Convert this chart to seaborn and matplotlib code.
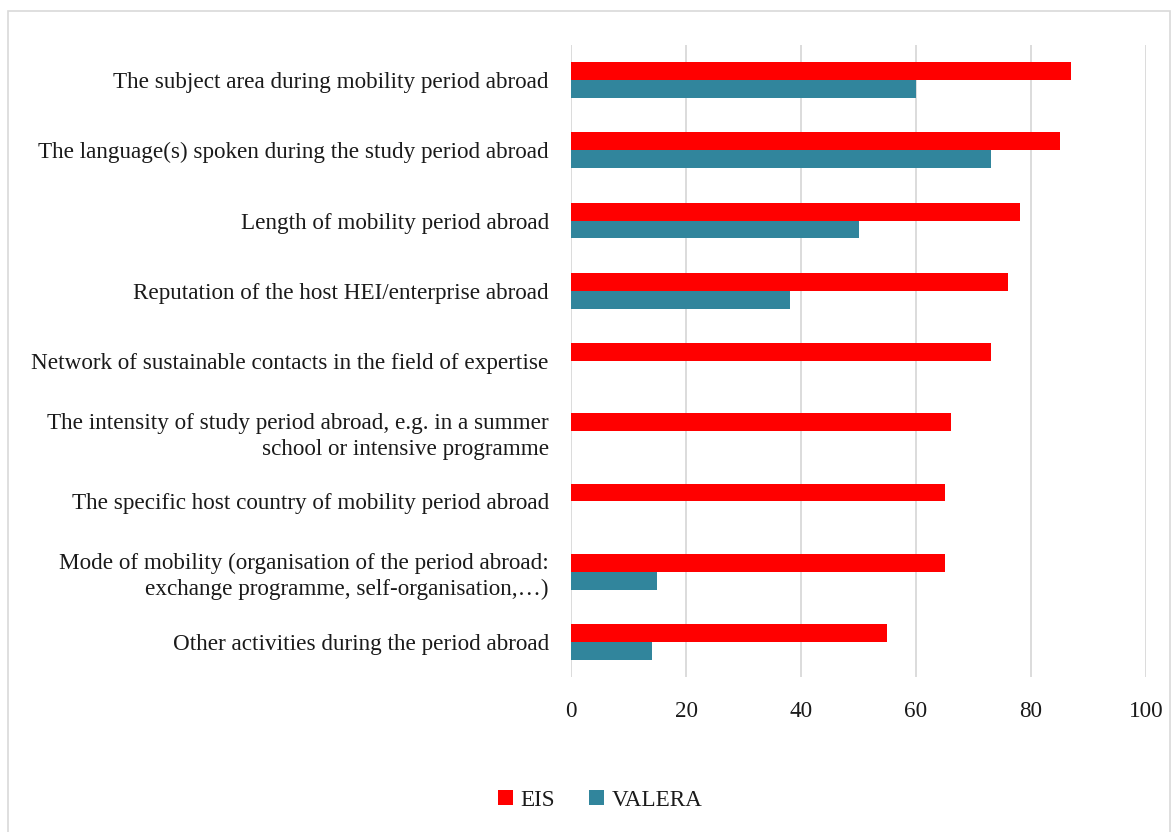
import numpy as np
import pandas as pd
import matplotlib
matplotlib.use("Agg")
import matplotlib.pyplot as plt
import seaborn as sns
from matplotlib.patches import Rectangle

categories = [
    "The subject area during mobility period abroad",
    "The language(s) spoken during the study period abroad",
    "Length of mobility period abroad",
    "Reputation of the host HEI/enterprise abroad",
    "Network of sustainable contacts in the field of expertise",
    "The intensity of study period abroad, e.g. in a summer\nschool or intensive programme",
    "The specific host country of mobility period abroad",
    "Mode of mobility (organisation of the period abroad:\nexchange programme, self-organisation,\u2026)",
    "Other activities during the period abroad",
]
eis = [87, 85, 78, 76, 73, 66, 65, 65, 55]
valera = [60, 73, 50, 38, np.nan, np.nan, np.nan, 15, 14]
series = ["EIS", "VALERA"]
x_ticks = [0, 20, 40, 60, 80, 100]

df = pd.DataFrame({
    "category": categories * 2,
    "value": eis + valera,
    "series": ["EIS"] * len(categories) + ["VALERA"] * len(categories),
})

sns.set_theme(style="white")
plt.rcParams["font.family"] = ["Liberation Serif", "DejaVu Serif"]

FS = 16.7
fig = plt.figure(figsize=(11.71, 8.32), dpi=100)
ax = fig.add_axes([571 / 1171, 1 - 677 / 832, (1146 - 571) / 1171, (677 - 45) / 832])

sns.barplot(data=df, x="value", y="category", hue="series", order=categories,
            hue_order=series, palette={"EIS": "#FF0000", "VALERA": "#31859C"},
            orient="h", width=0.51, errorbar=None, ax=ax, linewidth=0, saturation=1)

ax.set_xlim(0, 100)
ax.set_xticks(x_ticks)
ax.set_xticklabels([str(t) for t in x_ticks])
ax.set_ylim(len(categories) - 0.5, -0.5)
ax.xaxis.grid(True, color="#d9d9d9", linewidth=1.3)
ax.set_axisbelow(True)
for s in ["top", "right", "bottom", "left"]:
    ax.spines[s].set_visible(False)
ax.set_xlabel("")
ax.set_ylabel("")
ax.tick_params(axis="y", length=0, pad=16, labelsize=FS, labelcolor="#1a1a1a")
ax.tick_params(axis="x", length=0, pad=17, labelsize=FS, labelcolor="#1a1a1a")
for lbl in ax.get_yticklabels():
    lbl.set_multialignment("right")
    lbl.set_linespacing(1.3)

leg = ax.legend(loc="center", bbox_to_anchor=(600 / 1171, 1 - 800 / 832),
                bbox_transform=fig.transFigure, ncol=2, frameon=False,
                fontsize=FS, handlelength=0.65, handleheight=0.65,
                handletextpad=0.3, columnspacing=1.5)
for t in leg.get_texts():
    t.set_color("#1a1a1a")

fig.patches.append(Rectangle((8 / 1171, -0.05), 1 - 8 / 1171 - 0.5 / 1171, 1.05 - 11 / 832,
                             transform=fig.transFigure, fill=False,
                             edgecolor="#d9d9d9", linewidth=1.2))

fig.savefig("out.png", dpi=100, facecolor="white")
